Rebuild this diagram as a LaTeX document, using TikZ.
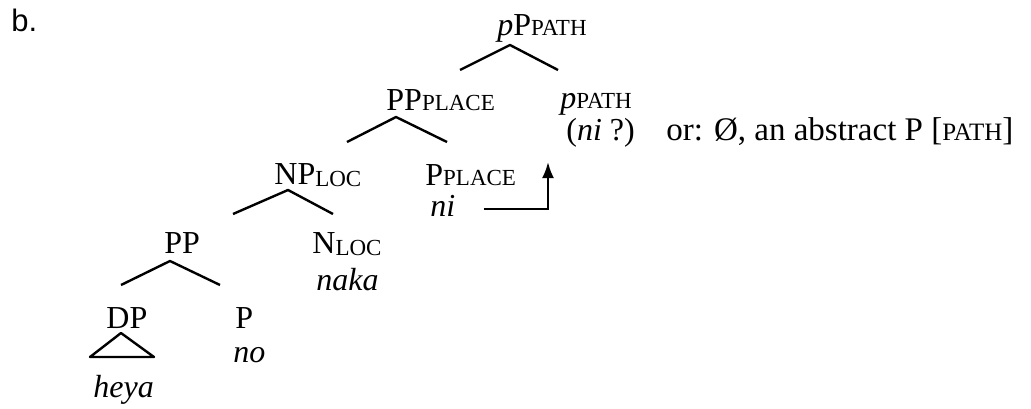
\documentclass[tikz,border=0pt]{standalone}
\usepackage{fontspec}
\setmainfont{Liberation Serif}
\newfontfamily\exfont{Liberation Sans}
\usetikzlibrary{arrows.meta}
\newcommand\smc[1]{{\fontsize{11.5}{12}\selectfont #1}}
\newcommand\smcl[1]{\raisebox{-1pt}{\smc{#1}}}
\tikzset{
  cat/.style={anchor=base west,inner sep=0pt,font=\fontsize{16}{18}\selectfont},
  branch/.style={line width=1.2pt,line join=round},
  move/.style={line width=1.2pt,-{Latex[length=8pt,width=6pt]}}
}
\begin{document}
\begin{tikzpicture}[x=0.5pt,y=-0.5pt]
   \useasboundingbox (0,0) rectangle (1031,408);
   \node[cat,font=\exfont\fontsize{15.5}{18}\selectfont] (ex) at (11,31) {b.};
   % top of the tree
   \node[cat] (pP) at (497,35) {\textit{p}P\smc{PATH}};
   \node[cat] (PPplace) at (386,110) {PP\smc{PLACE}};
   \node[cat] (pPath) at (560,108) {\textit{p}\smc{PATH}};
   \node[cat] (niq) at (566,140) {(\textit{ni} ?)};
   \node[cat,font=\fontsize{16.5}{18}\selectfont] (or) at (666,140)
      {or: Ø, an abstract P [{\fontsize{12.5}{13}\selectfont PATH}]};
   \node[cat] (NPloc) at (274,184) {NP\smcl{LOC}};
   \node[cat] (Pplace) at (425,185) {P\smc{PLACE}};
   \node[cat] (ni) at (430,216) {\textit{ni}};
   \node[cat] (PP) at (164,253) {PP};
   \node[cat] (Nloc) at (312,253) {N\smcl{LOC}};
   \node[cat] (naka) at (316,290) {\textit{naka}};
   \node[cat] (DP) at (106,328) {DP};
   \node[cat] (P) at (235,328) {P};
   \node[cat] (no) at (233,362) {\textit{no}};
   \node[cat] (heya) at (93,397) {\textit{heya}};
   % branches
   \draw[branch] ([shift={(74,-40)}]PPplace.base west) -- ([shift={(13,10)}]pP.base west)
      -- ([shift={(-2,-38)}]pPath.base west);
   \draw[branch] ([shift={(73,-42)}]NPloc.base west) -- ([shift={(10,7)}]PPplace.base west)
      -- ([shift={(22,-43)}]Pplace.base west);
   \draw[branch] ([shift={(69,-39)}]PP.base west) -- ([shift={(14,6)}]NPloc.base west)
      -- ([shift={(21,-39)}]Nloc.base west);
   \draw[branch] ([shift={(15,-43)}]DP.base west) -- ([shift={(6,8)}]PP.base west)
      -- ([shift={(-15,-43)}]P.base west);
   \draw[branch] ([shift={(15,5)}]DP.base west) -- ++(-31,24) -- ++(64,0) -- cycle;
   % movement of ni
   \draw[move] ([shift={(28,-7)}]ni.base east) -| ([shift={(-18,22)}]niq.base west);
\end{tikzpicture}
\end{document}
